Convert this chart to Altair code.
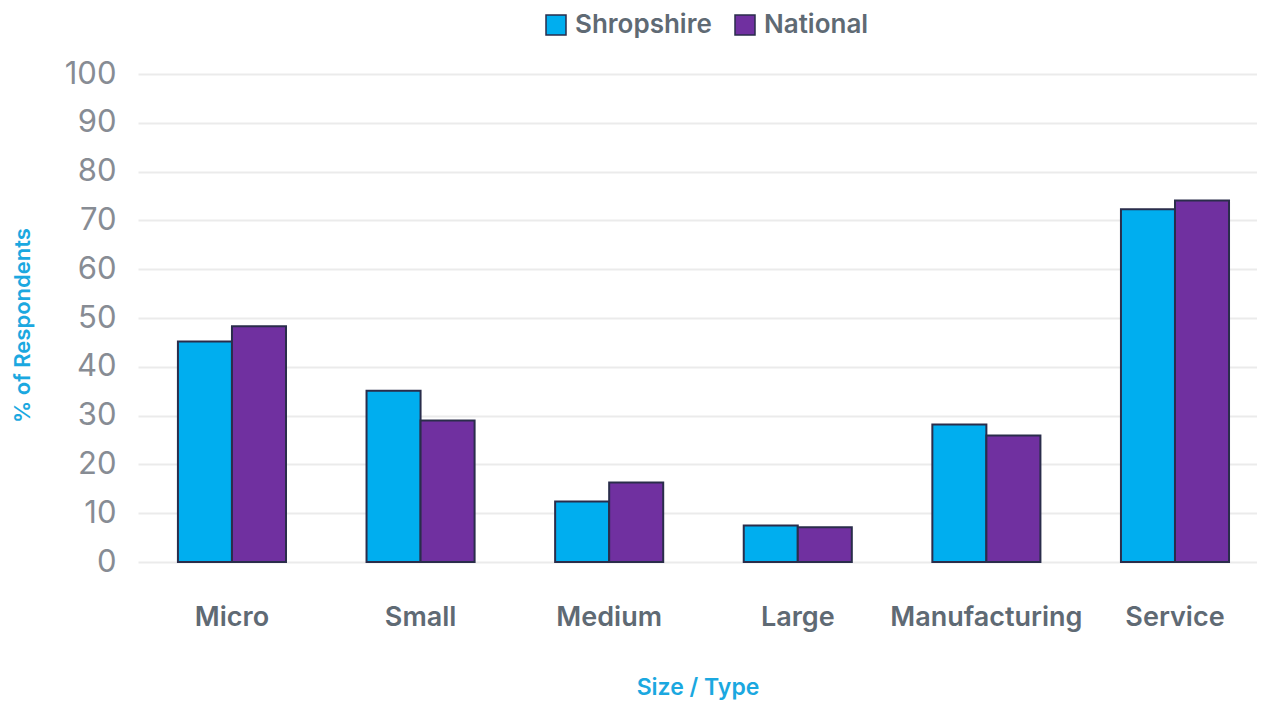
import altair as alt
import pandas as pd

categories = ["Micro", "Small", "Medium", "Large", "Manufacturing", "Service"]
shropshire = [45.2, 35.1, 12.4, 7.5, 28.2, 72.3]
national = [48.3, 29.0, 16.3, 7.1, 25.9, 74.1]
series = ["Shropshire", "National"]
colors = ["#00AEEF", "#7030A0"]

rows = []
for c, s, n in zip(categories, shropshire, national):
    rows.append({"cat": c, "series": "Shropshire", "value": s})
    rows.append({"cat": c, "series": "National", "value": n})
df = pd.DataFrame(rows)

FONT = "Inter"

chart = alt.Chart(df).mark_bar(stroke="#2a2d4b", strokeWidth=2).encode(
    x=alt.X("cat:N", sort=categories,
            scale=alt.Scale(paddingInner=0.427, paddingOuter=0.18, align=0.588),
            axis=alt.Axis(title="Size / Type", labelAngle=0, ticks=False, domain=False,
                          labelFont=FONT, labelFontSize=27, labelFontWeight=600,
                          labelColor="#5f6a74", labelPadding=42, labelLimit=400,
                          titleFont=FONT, titleFontSize=23, titleFontWeight=600,
                          titleColor="#1ba8e0", titlePadding=46)),
    xOffset=alt.XOffset("series:N", sort=series),
    y=alt.Y("value:Q", scale=alt.Scale(domain=[0, 100]),
            axis=alt.Axis(title="% of Respondents", values=list(range(0, 101, 10)),
                          ticks=False, domain=False, grid=True, gridColor="#ebebeb",
                          gridWidth=2, labelFont=FONT, labelFontSize=31,
                          labelColor="#878c94", labelPadding=22,
                          titleFont=FONT, titleFontSize=22, titleFontWeight=600,
                          titleColor="#1ba8e0", titleX=-116, titleY=251,
                          titleAlign="center", titleBaseline="middle")),
    color=alt.Color("series:N", sort=series,
                    scale=alt.Scale(domain=series, range=colors),
                    legend=alt.Legend(title=None, orient="none", direction="horizontal",
                                      legendX=405, legendY=-62,
                                      symbolType="square", symbolSize=400,
                                      symbolStrokeColor="#2a2d4b", symbolStrokeWidth=1.5,
                                      labelFont=FONT, labelFontSize=26, labelFontWeight=600,
                                      labelColor="#5f6a74", labelOffset=6,
                                      columnPadding=20)),
).properties(
    width=1119, height=488,
    autosize=alt.AutoSizeParams(type="none"),
    padding={"left": 130, "top": 66, "right": 0, "bottom": 140},
).configure_view(stroke=None)

chart.save("out.html", embed_options={"renderer": "svg", "actions": False})
